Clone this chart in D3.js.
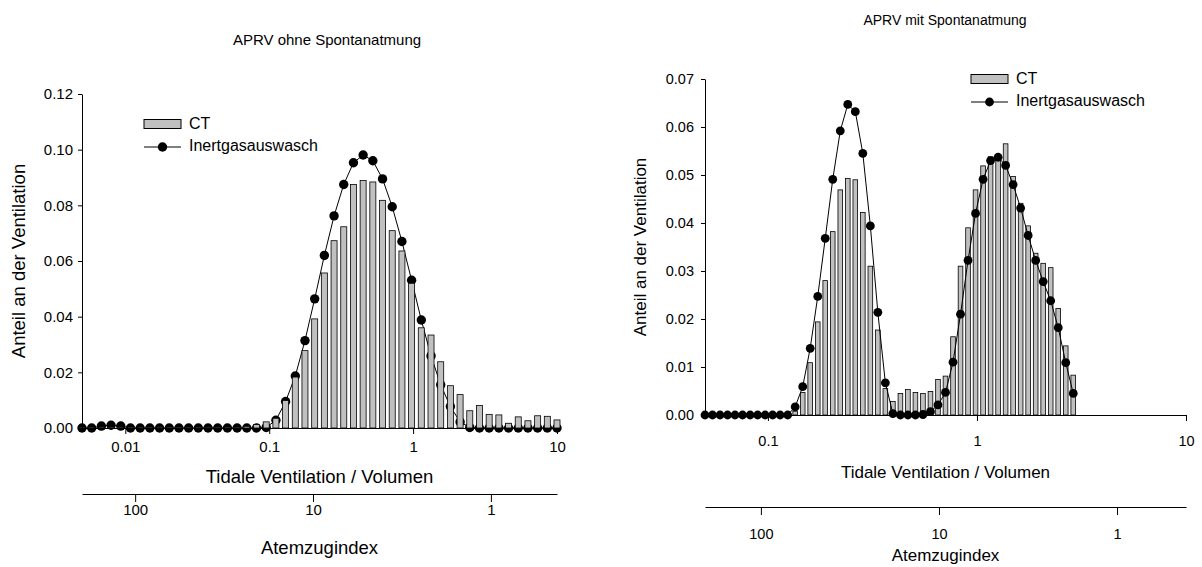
<!DOCTYPE html>
<html>
<head>
<meta charset="utf-8">
<script src="https://cdn.jsdelivr.net/npm/d3@7"></script>
<style>
body { margin: 0; background: #fff; }
svg text { font-family: "Liberation Sans", Arial, sans-serif; fill: #000; }
</style>
</head>
<body>
<svg id="chart" width="1202" height="567"></svg>
<script>
// bin centres (Tidale Ventilation / Volumen) and values
var ohneBins = [0.00500, 0.00584, 0.00682, 0.00796, 0.00930, 0.01086, 0.01268, 0.01481, 0.01730, 0.02020,
    0.02359, 0.02755, 0.03217, 0.03757, 0.04387, 0.05124, 0.05983, 0.06987, 0.08160, 0.09529,
    0.1113, 0.1300, 0.1518, 0.1772, 0.2070, 0.2417, 0.2823, 0.3296, 0.3849, 0.4495,
    0.5250, 0.6131, 0.7159, 0.8361, 0.9764, 1.140, 1.332, 1.555, 1.816, 2.121,
    2.476, 2.892, 3.377, 3.944, 4.606, 5.379, 6.281, 7.335, 8.566, 10.00];
var ohneCT = [0, 0, 0, 0, 0, 0, 0, 0, 0, 0,
    0, 0, 0, 0, 0, 0, 0, 0.0006, 0.0012, 0.0022,
    0.0035, 0.0099, 0.0183, 0.0278, 0.0392, 0.0557, 0.0673, 0.0723, 0.0875, 0.0889,
    0.0884, 0.0818, 0.0709, 0.0636, 0.0520, 0.0360, 0.0334, 0.0238, 0.0152, 0.0120,
    0.0062, 0.0081, 0.0049, 0.0047, 0.0017, 0.0040, 0.0026, 0.0044, 0.0042, 0.0029];
var ohneInert = [0, 0, 0.0007, 0.0010, 0.0007, 0, 0, 0, 0, 0,
    0, 0, 0, 0, 0, 0, 0, 0, 0, 0.0002,
    0.0028, 0.0095, 0.0187, 0.0314, 0.0464, 0.0620, 0.0762, 0.0875, 0.0953, 0.0981,
    0.0960, 0.0895, 0.0795, 0.0670, 0.0531, 0.0388, 0.0259, 0.0155, 0.0077, 0.0022,
    0.0002, 0, 0, 0, 0, 0, 0, 0, 0, 0];

var mitBins = [0.0500, 0.0543, 0.0590, 0.0641, 0.0696, 0.0756, 0.0822, 0.0893, 0.0970, 0.1053,
    0.1144, 0.1243, 0.1350, 0.1467, 0.1593, 0.1731, 0.1880, 0.2042, 0.2219, 0.2410,
    0.2618, 0.2844, 0.3090, 0.3356, 0.3646, 0.3961, 0.4303, 0.4674, 0.5077, 0.5516,
    0.5992, 0.6509, 0.7070, 0.7681, 0.8343, 0.9063, 0.9845, 1.0695, 1.1618, 1.2621,
    1.3710, 1.4893, 1.6179, 1.7575, 1.9092, 2.0740, 2.2529, 2.4474, 2.6586, 2.8880];
var mitCT = [0, 0, 0, 0, 0, 0, 0, 0, 0, 0,
    0, 0, 0.0008, 0.0047, 0.0109, 0.0194, 0.0280, 0.0382, 0.0469, 0.0493,
    0.0490, 0.0422, 0.0310, 0.0177, 0.0055, 0.0028, 0.0045, 0.0053, 0.0047, 0.0045,
    0.0049, 0.0074, 0.0081, 0.0163, 0.0310, 0.0390, 0.0469, 0.0519, 0.0538, 0.0540,
    0.0565, 0.0497, 0.0441, 0.0394, 0.0337, 0.0316, 0.0307, 0.0222, 0.0144, 0.0083];
var mitInert = [0, 0, 0, 0, 0, 0, 0, 0, 0, 0,
    0, 0, 0.0017, 0.0059, 0.0139, 0.0247, 0.0368, 0.0491, 0.0592, 0.0647,
    0.0632, 0.0545, 0.0394, 0.0214, 0.0067, 0.0003, 0, 0, 0, 0.0001,
    0.0007, 0.0021, 0.0047, 0.0110, 0.0210, 0.0322, 0.0420, 0.0491, 0.0530, 0.0537,
    0.0520, 0.0480, 0.0431, 0.0374, 0.0322, 0.0278, 0.0238, 0.0182, 0.0109, 0.0045];

var ohneXTicks = [0.01, 0.1, 1, 10];
var mitXTicks = [0.1, 1, 10];
var indexTicks = [100, 10, 1];
var ohneYTicks = [0, 0.02, 0.04, 0.06, 0.08, 0.10, 0.12];
var mitYTicks = [0, 0.01, 0.02, 0.03, 0.04, 0.05, 0.06, 0.07];

var svg = d3.select("#chart");

function drawPanel(cfg) {
    var g = svg.append("g");

    var x = d3.scaleLog().domain(cfg.xDomain).range([cfg.left, cfg.right]);
    var y = d3.scaleLinear().domain([0, cfg.yMax]).range([cfg.bottom, cfg.top]);
    var xi = d3.scaleLog().domain(cfg.indexDomain).range([cfg.left, cfg.right]);

    var bw = (x(cfg.bins[1]) - x(cfg.bins[0])) * 0.62;

    var points = cfg.bins.map(function(b, i) { return {x: b, v: cfg.inert[i]}; });
    var bars = cfg.bins.map(function(b, i) { return {x: b, v: cfg.ct[i]}; });

    function drawBars() {
        g.append("g").selectAll("rect")
            .data(bars)
            .enter().append("rect")
            .attr("x", function(d) { return x(d.x) - bw / 2; })
            .attr("y", function(d) { return Math.min(y(d.v), y(0) - 1); })
            .attr("width", bw)
            .attr("height", function(d) { return Math.max(y(0) - y(d.v), 1); })
            .attr("fill", "#c0c0c0")
            .attr("stroke", "#000")
            .attr("stroke-width", 0.8);
    }

    function drawLine() {
        g.append("path")
            .datum(points)
            .attr("fill", "none")
            .attr("stroke", "#000")
            .attr("stroke-width", 1)
            .attr("d", d3.line()
                .x(function(d) { return x(d.x); })
                .y(function(d) { return y(d.v); }));
        g.append("g").selectAll("circle")
            .data(points)
            .enter().append("circle")
            .attr("cx", function(d) { return x(d.x); })
            .attr("cy", function(d) { return y(d.v); })
            .attr("r", cfg.r)
            .attr("fill", "#000");
    }

    // left panel has the bars in front, right panel the dots
    if (cfg.barsOnTop) { drawLine(); drawBars(); }
    else { drawBars(); drawLine(); }

    // y axis
    var yAxis = g.append("g")
        .attr("transform", "translate(" + cfg.left + ",0)")
        .call(d3.axisLeft(y).tickValues(cfg.yTicks).tickFormat(d3.format(".2f")).tickSize(4).tickSizeOuter(0));
    yAxis.selectAll("text").attr("x", cfg.yLabelX).style("font-size", cfg.tickFont);

    // x axis at zero
    var xAxis = g.append("g")
        .attr("transform", "translate(0," + cfg.bottom + ")")
        .call(d3.axisBottom(x).tickValues(cfg.xTicks).tickFormat(function(d) { return String(d); }).tickSize(6).tickSizeOuter(0));
    xAxis.selectAll("text").attr("y", cfg.xLabelY).style("font-size", cfg.tickFont);

    // second x axis: Atemzugindex
    var iAxis = g.append("g")
        .attr("transform", "translate(0," + cfg.indexY + ")")
        .call(d3.axisBottom(xi).tickValues(indexTicks).tickFormat(d3.format("d")).tickSize(8).tickSizeOuter(0));
    iAxis.selectAll("text").attr("y", cfg.indexLabelY).style("font-size", cfg.tickFont);

    g.selectAll(".domain, .tick line").attr("stroke", "#000");

    // titles
    g.append("text")
        .attr("x", cfg.titleX)
        .attr("y", cfg.titleY)
        .attr("text-anchor", "middle")
        .style("font-size", cfg.titleFont)
        .text(cfg.title);

    g.append("text")
        .attr("x", (cfg.left + cfg.right) / 2)
        .attr("y", cfg.xTitleY)
        .attr("text-anchor", "middle")
        .style("font-size", cfg.axisFont)
        .text("Tidale Ventilation / Volumen");

    g.append("text")
        .attr("x", (cfg.left + cfg.right) / 2)
        .attr("y", cfg.indexTitleY)
        .attr("text-anchor", "middle")
        .style("font-size", cfg.axisFont)
        .text("Atemzugindex");

    g.append("text")
        .attr("transform", "translate(" + cfg.yTitleX + "," + ((cfg.top + cfg.bottom) / 2) + ") rotate(-90)")
        .attr("text-anchor", "middle")
        .style("font-size", cfg.axisFont)
        .text("Anteil an der Ventilation");

    // legend
    var lg = g.append("g").attr("transform", "translate(" + cfg.legendX + "," + cfg.legendY + ")");
    lg.append("rect")
        .attr("x", 0).attr("y", -4.5)
        .attr("width", 37).attr("height", 9)
        .attr("fill", "#c0c0c0").attr("stroke", "#000").attr("stroke-width", 1);
    lg.append("text").attr("x", 45).attr("y", 5).style("font-size", "16px").text("CT");
    lg.append("line")
        .attr("x1", 0).attr("x2", 37).attr("y1", 23).attr("y2", 23)
        .attr("stroke", "#000").attr("stroke-width", 1);
    lg.append("circle").attr("cx", 18.5).attr("cy", 23).attr("r", cfg.r).attr("fill", "#000");
    lg.append("text").attr("x", 45).attr("y", 27).style("font-size", "16px").text("Inertgasauswasch");
}

drawPanel({
    title: "APRV ohne Spontanatmung", titleX: 327, titleY: 45,
    bins: ohneBins, ct: ohneCT, inert: ohneInert,
    xDomain: [0.005, 10], xTicks: ohneXTicks,
    yMax: 0.12, yTicks: ohneYTicks,
    indexDomain: [199, 0.425],
    left: 82, right: 557, top: 94, bottom: 428,
    yLabelX: -9, xLabelY: 13,
    indexY: 494, indexLabelY: 10, indexTitleY: 554,
    xTitleY: 483, yTitleX: 25,
    legendX: 144, legendY: 124, r: 4.7,
    titleFont: "15px", axisFont: "18.5px", tickFont: "15px",
    barsOnTop: true
});

drawPanel({
    title: "APRV mit Spontanatmung", titleX: 945, titleY: 25,
    bins: mitBins, ct: mitCT, inert: mitInert,
    xDomain: [0.05, 10], xTicks: mitXTicks,
    yMax: 0.07, yTicks: mitYTicks,
    indexDomain: [206, 0.41],
    left: 705, right: 1186, top: 79, bottom: 415,
    yLabelX: -11, xLabelY: 21,
    indexY: 507, indexLabelY: 22, indexTitleY: 561,
    xTitleY: 478, yTitleX: 646,
    legendX: 971, legendY: 79, r: 4.4,
    titleFont: "14px", axisFont: "17px", tickFont: "14.5px",
    barsOnTop: false
});
</script>
</body>
</html>
